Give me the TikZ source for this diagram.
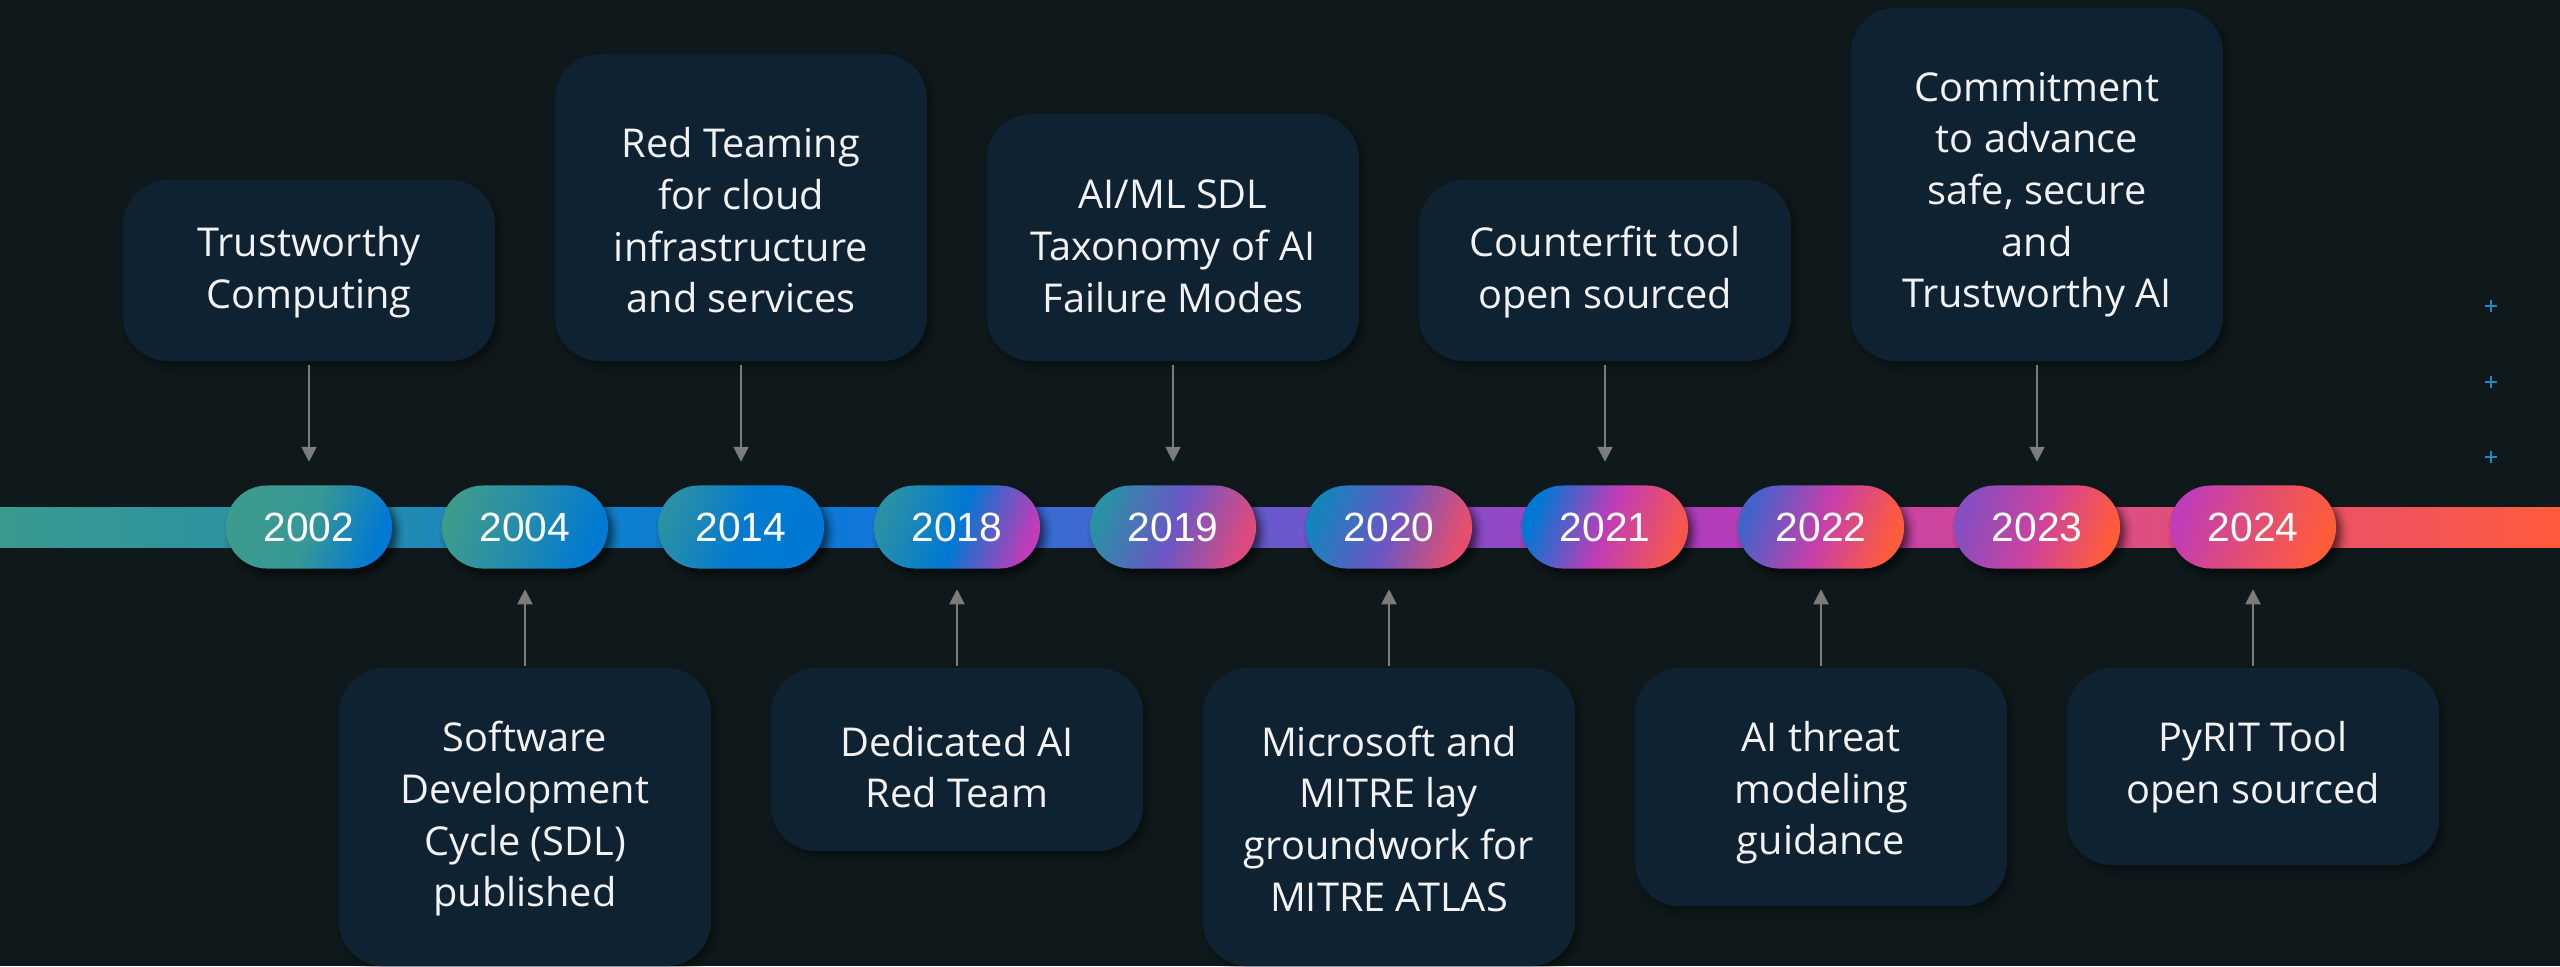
\documentclass[tikz,border=0pt]{standalone}
\usepackage{fontspec}
\setmainfont{Open Sans}
\newfontfamily\yearfont{Liberation Sans}
\usetikzlibrary{arrows.meta,shadows.blur}

% palette
\definecolor{bg}{HTML}{0F191C}
\definecolor{cardc}{HTML}{0F2231}
\definecolor{txt}{HTML}{F2F2F2}
\definecolor{arrowc}{HTML}{7C7C7C}
\definecolor{plusc}{HTML}{1F8AC4}

% timeline band colours, left to right
\definecolor{b0}{HTML}{3A9A8E}
\definecolor{b1}{HTML}{2E93A3}
\definecolor{b2}{HTML}{1C88BA}
\definecolor{b3}{HTML}{0F7FCF}
\definecolor{b4}{HTML}{0E78D8}
\definecolor{b5}{HTML}{3C6AD2}
\definecolor{b6}{HTML}{6A58CC}
\definecolor{b7}{HTML}{9049C4}
\definecolor{b8}{HTML}{B23DBA}
\definecolor{b9}{HTML}{CC45A0}
\definecolor{b10}{HTML}{DE4F80}
\definecolor{b11}{HTML}{F0545A}
\definecolor{b12}{HTML}{FF5B3A}
\pgfdeclarehorizontalshading{timeband}{100bp}{%
  color(0bp)=(b0); color(25bp)=(b0); color(29.5bp)=(b1); color(34bp)=(b2);
  color(37.3bp)=(b3); color(41.6bp)=(b4); color(45.8bp)=(b5); color(50bp)=(b6);
  color(54.3bp)=(b7); color(58.5bp)=(b8); color(62.7bp)=(b9); color(66.9bp)=(b10);
  color(71.9bp)=(b11); color(75bp)=(b12); color(100bp)=(b12)}

% year pill colours
\definecolor{teal}{HTML}{3D9B8E}
\definecolor{tealb}{HTML}{2A90A6}
\definecolor{msblue}{HTML}{0078D4}
\definecolor{magenta}{HTML}{C03CB8}
\definecolor{orange}{HTML}{FF5C3A}

\tikzset{
  card/.style={fill=cardc, rounded corners=0.45cm, minimum width=3.72cm,
    inner sep=0pt,
    blur shadow={shadow xshift=0.04cm, shadow yshift=-0.05cm,
      shadow blur radius=0.08cm, shadow opacity=45}},
  cardtext/.style={inner sep=0pt, align=center, text=txt,
    font=\fontsize{11.3}{14.7}\selectfont},
  yr/.style n args={3}{rounded corners=0.41cm, minimum width=1.66cm,
    minimum height=0.83cm, inner sep=0pt, text=white,
    font=\yearfont\fontsize{11.6}{13}\selectfont,
    left color=#1, right color=#2, middle color=#3, shading angle=70,
    blur shadow={shadow xshift=0.05cm, shadow yshift=-0.06cm,
      shadow blur radius=0.07cm, shadow opacity=60}},
  link/.style={draw=arrowc, line width=0.02cm,
    -{Triangle[width=0.15cm,length=0.15cm]}},
  plusmark/.style={draw=plusc, line width=0.025cm},
}

\begin{document}
\begin{tikzpicture}[x=0.01cm, y=-0.01cm]
  \useasboundingbox (0,0) rectangle (2560,966);
  \fill[bg] (0,0) rectangle (2560,966);

  % timeline band
  \shade[shading=timeband] (0,507) rectangle (2560,547);

  % year pills
  \node[yr={teal}{msblue}{teal!90!msblue}]      (y2002) at (309,527)  {2002};
  \node[yr={teal}{msblue}{teal!55!msblue}]      (y2004) at (525,527)  {2004};
  \node[yr={tealb}{msblue}{msblue!90!tealb}]    (y2014) at (741,527)  {2014};
  \node[yr={tealb}{magenta}{msblue}]            (y2018) at (957,527)  {2018};
  \node[yr={tealb}{magenta!55!orange}{msblue!45!magenta}] (y2019) at (1173,527) {2019};
  \node[yr={tealb!50!msblue}{magenta!40!orange}{msblue!45!magenta}] (y2020) at (1389,527) {2020};
  \node[yr={msblue}{orange!85!magenta}{magenta}] (y2021) at (1605,527) {2021};
  \node[yr={msblue!65!magenta}{orange}{magenta!90!orange}] (y2022) at (1821,527) {2022};
  \node[yr={magenta!70!msblue}{orange}{magenta!80!orange}] (y2023) at (2037,527) {2023};
  \node[yr={magenta}{orange}{magenta!45!orange}] (y2024) at (2253,527) {2024};

  % milestone cards above the line (texts share a common last line)
  \node[card, minimum height=1.81cm] (tc)   at (309,270.5)  {};
  \node[card, minimum height=3.07cm] (rt)   at (741,207.5)  {};
  \node[card, minimum height=2.47cm] (aiml) at (1173,237.5) {};
  \node[card, minimum height=1.81cm] (cf)   at (1605,270.5) {};
  \node[card, minimum height=3.53cm] (cm)   at (2037,184.5) {};
  \node[cardtext] (tc-t)   at (309,272.2)  {Trustworthy\\Computing};
  \node[cardtext] (rt-t)   at (741,220.5)  {Red Teaming\\for cloud\\infrastructure\\and services};
  \node[cardtext] (aiml-t) at (1173,246.3) {AI/ML SDL\\Taxonomy of AI\\Failure Modes};
  \node[cardtext] (cf-t)   at (1605,272.2) {Counterfit tool\\open sourced};
  \node[cardtext] (cm-t)   at (2037,194.6) {Commitment\\to advance\\safe, secure\\and\\Trustworthy AI};

  % milestone cards below the line (texts share a common first line)
  \node[card, minimum height=2.98cm] (sdl)  at (525,817)    {};
  \node[card, minimum height=1.83cm] (dai)  at (957,759.5)  {};
  \node[card, minimum height=2.98cm] (mm)   at (1389,817)   {};
  \node[card, minimum height=2.38cm] (tm)   at (1821,787)   {};
  \node[card, minimum height=1.97cm] (py)   at (2253,766.5) {};
  \node[cardtext] (sdl-t) at (525,818.8)  {Software\\Development\\Cycle (SDL)\\published};
  \node[cardtext] (dai-t) at (957,767)    {Dedicated AI\\Red Team};
  \node[cardtext] (mm-t)  at (1389,818.8) {Microsoft and\\MITRE lay\\groundwork for\\MITRE ATLAS};
  \node[cardtext] (tm-t)  at (1821,792.9) {AI threat\\modeling\\guidance};
  \node[cardtext] (py-t)  at (2253,767)   {PyRIT Tool\\open sourced};

  % connectors from cards to years
  \foreach \c/\y in {tc/y2002, rt/y2014, aiml/y2019, cf/y2021, cm/y2023}
    \draw[link, shorten <=0.03cm, shorten >=0.23cm] (\c.south) -- (\y.north);
  \foreach \c/\y in {sdl/y2004, dai/y2018, mm/y2020, tm/y2022, py/y2024}
    \draw[link, shorten <=0.01cm, shorten >=0.2cm] (\c.north) -- (\y.south);

  % small plus marks at the right edge
  \foreach \yy in {306,382,457}
    \draw[plusmark] (2485,\yy) -- (2497,\yy) (2491,\yy-6) -- (2491,\yy+6);
\end{tikzpicture}
\end{document}
